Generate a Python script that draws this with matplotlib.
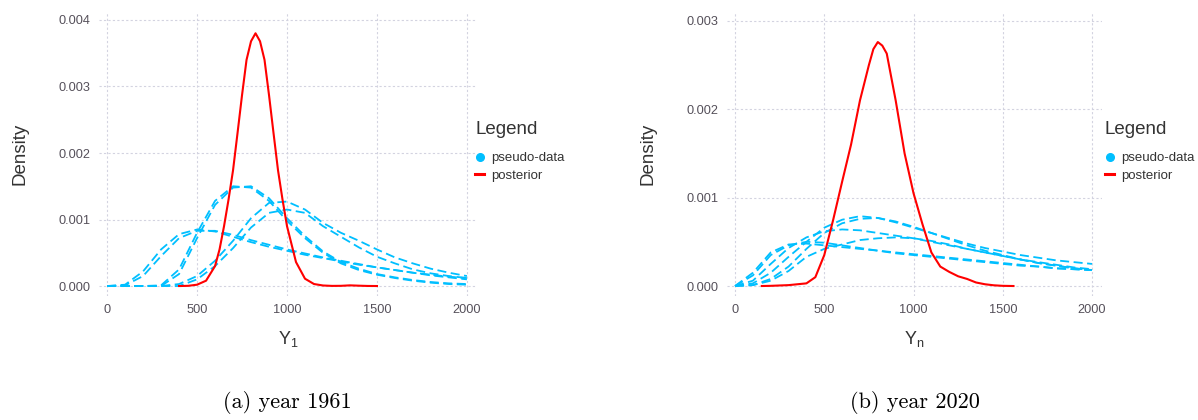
import matplotlib
matplotlib.use("Agg")
import matplotlib.pyplot as plt
from matplotlib.lines import Line2D

plt.rcParams["font.family"] = ["Liberation Sans", "DejaVu Sans"]

BLUE = "#00BFFF"
RED = "#FF0000"
GRID = "#d3d3e0"
TICK = "#55505a"

# ---------------- panel (a) year 1961 ----------------
x_blue = [0, 100, 200, 300, 400, 500, 600, 700, 800, 900, 1000,
          1100, 1200, 1300, 1400, 1500, 1600, 1700, 1800, 1900, 2000]

a_pseudo = [
    [0, 0.00002, 0.00022, 0.00055, 0.00078, 0.00085, 0.00082, 0.00074, 0.00066, 0.00059, 0.00053,
     0.00047, 0.00042, 0.00037, 0.00032, 0.00028, 0.00024, 0.00020, 0.00017, 0.00014, 0.00012],
    [0, 0.00001, 0.00015, 0.00045, 0.00072, 0.00083, 0.00083, 0.00077, 0.00069, 0.00062, 0.00055,
     0.00049, 0.00043, 0.00038, 0.00033, 0.00028, 0.00024, 0.00020, 0.00016, 0.00013, 0.00010],
    [0, 0, 0, 0.00001, 0.00025, 0.00080, 0.00128, 0.00150, 0.00148, 0.00128, 0.00098,
     0.00072, 0.00050, 0.00034, 0.00024, 0.00017, 0.00012, 0.00008, 0.00005, 0.00003, 0.00002],
    [0, 0, 0, 0, 0.00018, 0.00072, 0.00122, 0.00148, 0.00150, 0.00132, 0.00102,
     0.00075, 0.00052, 0.00036, 0.00026, 0.00018, 0.00013, 0.00009, 0.00006, 0.00004, 0.00003],
    [0, 0, 0, 0, 0.00003, 0.00015, 0.00038, 0.00068, 0.00102, 0.00125, 0.00127,
     0.00115, 0.00095, 0.00080, 0.00068, 0.00055, 0.00043, 0.00034, 0.00026, 0.00020, 0.00015],
    [0, 0, 0, 0, 0, 0.00010, 0.00030, 0.00057, 0.00088, 0.00110, 0.00115,
     0.00110, 0.00090, 0.00074, 0.00058, 0.00044, 0.00034, 0.00025, 0.00019, 0.00015, 0.00012],
]

a_post_x = [400, 450, 500, 550, 600, 625, 650, 675, 700, 725, 750, 775, 800, 825, 850, 875, 900,
            925, 950, 975, 1000, 1050, 1100, 1150, 1200, 1250, 1300, 1350, 1400, 1450, 1500]
a_post_y = [0, 0.000003, 0.00002, 0.00008, 0.0003, 0.00055, 0.0009, 0.0013, 0.00174, 0.0023,
            0.00287, 0.0034, 0.00368, 0.0038, 0.00368, 0.0034, 0.00287, 0.0023, 0.00174,
            0.0013, 0.0009, 0.00036, 0.00011, 0.00003, 0.000008, 0.000002, 0.000003, 0.00001,
            0.000005, 0.000001, 0]

# ---------------- panel (b) year 2020 ----------------
b_pseudo = [
    [0, 0.00003, 0.00015, 0.00033, 0.00050, 0.00066, 0.00075, 0.00079, 0.00077, 0.00072, 0.00066,
     0.00060, 0.00054, 0.00048, 0.00043, 0.00039, 0.00035, 0.00032, 0.00029, 0.00027, 0.00025],
    [0, 0.00001, 0.00008, 0.00022, 0.00042, 0.00060, 0.00071, 0.00076, 0.00077, 0.00073, 0.00067,
     0.00060, 0.00053, 0.00046, 0.00040, 0.00035, 0.00030, 0.00026, 0.00023, 0.00020, 0.00018],
    [0, 0.00006, 0.00025, 0.00043, 0.00055, 0.00062, 0.00064, 0.00063, 0.00060, 0.00057, 0.00054,
     0.00050, 0.00046, 0.00042, 0.00038, 0.00034, 0.00030, 0.00027, 0.00024, 0.00021, 0.00019],
    [0, 0.00001, 0.00006, 0.00017, 0.00033, 0.00042, 0.00047, 0.00052, 0.00054, 0.00055, 0.00054,
     0.00051, 0.00047, 0.00042, 0.00038, 0.00034, 0.00030, 0.00026, 0.00023, 0.00020, 0.00018],
    [0, 0.00012, 0.00035, 0.00046, 0.00050, 0.00049, 0.00046, 0.00043, 0.00040, 0.00038, 0.00036,
     0.00034, 0.00032, 0.00030, 0.00028, 0.00026, 0.00024, 0.00022, 0.00020, 0.00019, 0.00018],
    [0, 0.00015, 0.00038, 0.00047, 0.00048, 0.00046, 0.00044, 0.00042, 0.00040, 0.00037, 0.00035,
     0.00033, 0.00031, 0.00029, 0.00027, 0.00025, 0.00023, 0.00022, 0.00020, 0.00019, 0.00018],
]

b_post_x = [150, 200, 300, 400, 450, 500, 550, 600, 650, 700, 750, 775, 800, 825, 850,
            900, 950, 1000, 1050, 1100, 1150, 1200, 1250, 1300, 1350, 1400, 1450, 1500, 1560]
b_post_y = [0, 0.000002, 0.00001, 0.00003, 0.0001, 0.00035, 0.00075, 0.00118, 0.0016, 0.0021,
            0.0025, 0.00268, 0.00276, 0.00272, 0.00263, 0.0021, 0.0015, 0.00105, 0.0007, 0.00038,
            0.00022, 0.00016, 0.00011, 0.00008, 0.00004, 0.00002, 0.000008, 0.000002, 0]

x_ticks = [0, 500, 1000, 1500, 2000]
a_yticks = [0.000, 0.001, 0.002, 0.003, 0.004]
b_yticks = [0.000, 0.001, 0.002, 0.003]

W, H = 1198, 420
fig = plt.figure(figsize=(W / 100, H / 100), dpi=100)


def panel(rect, pseudo, px, py, yticks, ylim, xlabel, caption, leg_x, cap_x):
    ax = fig.add_axes(rect)
    for ys in pseudo:
        ax.plot(x_blue, ys, color=BLUE, lw=1.3, ls=(0, (5, 2.5)))
    ax.plot(px, py, color=RED, lw=1.5)
    ax.set_xlim(-45, 2056)
    ax.set_ylim(*ylim)
    ax.set_xticks(x_ticks)
    ax.set_yticks(yticks)
    ax.set_yticklabels([f"{t:.3f}" for t in yticks])
    ax.tick_params(length=0, labelsize=9.2, colors=TICK, pad=6)
    for s in ax.spines.values():
        s.set_visible(False)
    ax.grid(True, color=GRID, ls=(0, (2, 2)), lw=0.8)
    ax.set_axisbelow(True)
    ax.set_ylabel("Density", fontsize=13.5, color="#333333", labelpad=22)
    ax.set_xlabel(xlabel, fontsize=13, color="#333333", labelpad=9)

    # legend: title as separate text so the gap matches ggplot
    fig.text(leg_x / W, 1 - 130 / H, "Legend", fontsize=13.5, color="#333333",
             ha="left", va="center")
    handles = [Line2D([], [], color=BLUE, marker="o", ls="none", markersize=5.5),
               Line2D([], [], color=RED, lw=2.2)]
    fig.legend(handles, ["pseudo-data", "posterior"],
               loc="upper left", bbox_to_anchor=(leg_x / W, 1 - 152 / H), frameon=False,
               fontsize=9.5, handlelength=0.7, handletextpad=0.55, labelspacing=0.42,
               borderpad=0, borderaxespad=0, labelcolor="#333333")
    fig.text(cap_x / W, 1 - 402 / H, caption, ha="center", va="center",
             fontsize=16, family="cmr10")
    return ax


panel([99 / W, 1 - 296 / H, 378 / W, 284 / H], a_pseudo, a_post_x, a_post_y,
      a_yticks, (-0.00015, 0.00412), r"$\mathregular{Y_{1}}$", "(a) year 1961", 475, 287)
panel([727 / W, 1 - 296 / H, 375 / W, 284 / H], b_pseudo, b_post_x, b_post_y,
      b_yticks, (-0.000113, 0.0031), r"$\mathregular{Y_{n}}$", "(b) year 2020", 1105, 915)

fig.savefig("out.png", dpi=100)
